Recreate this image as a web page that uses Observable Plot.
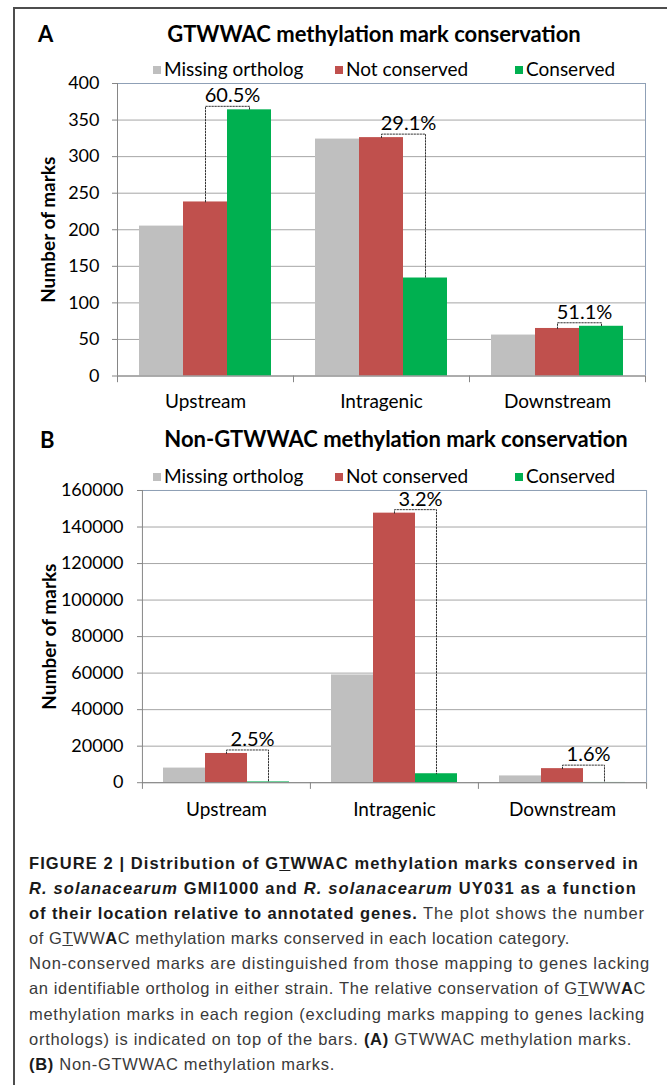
<!DOCTYPE html>
<html><head><meta charset="utf-8">
<script src="https://cdn.jsdelivr.net/npm/d3@7"></script>
<script src="https://cdn.jsdelivr.net/npm/@observablehq/plot@0.6"></script>
<style>
html,body{margin:0;padding:0;background:#fff;}
body{width:667px;height:1085px;overflow:hidden;position:relative;font-family:Lato,sans-serif;}
#frame{position:absolute;left:13px;top:7px;width:720px;height:1120px;border-left:2px solid #4d4d4d;border-top:2px solid #4d4d4d;}
.abs{position:absolute;white-space:nowrap;line-height:1.2;}
.panel{position:absolute;left:0;}
.sw{position:absolute;width:8px;height:8px;}
#caption{position:absolute;left:29px;top:851px;width:800px;font-family:"Liberation Sans",Arial,sans-serif;font-size:16.5px;color:#3a3a3a;}
#caption div{height:25.1px;line-height:25.1px;white-space:nowrap;}
#caption span.ln{display:inline-block;white-space:nowrap;}
#caption b{color:#1a1a1a;}
</style></head>
<body>
<div id="frame"></div>
<div id="root"></div>
<div id="caption">
<div><span class="ln"><b>FIGURE 2 | Distribution of G<u>T</u>WWAC methylation marks conserved in</b></span></div>
<div><span class="ln"><b><i>R. solanacearum</i> GMI1000 and <i>R. solanacearum</i> UY031 as a function</b></span></div>
<div><span class="ln"><b>of their location relative to annotated genes.</b> The plot shows the number</span></div>
<div><span class="ln">of G<u>T</u>WW<b>A</b>C methylation marks conserved in each location category.</span></div>
<div><span class="ln">Non-conserved marks are distinguished from those mapping to genes lacking</span></div>
<div><span class="ln">an identifiable ortholog in either strain. The relative conservation of G<u>T</u>WW<b>A</b>C</span></div>
<div><span class="ln">methylation marks in each region (excluding marks mapping to genes lacking</span></div>
<div><span class="ln">orthologs) is indicated on top of the bars. <b>(A)</b> GTWWAC methylation marks.</span></div>
<div><span class="ln"><b>(B)</b> Non-GTWWAC methylation marks.</span></div>
</div>
<script>
// ---- data ----
const categories = ["Upstream", "Intragenic", "Downstream"];
const seriesNames = ["Missing ortholog", "Not conserved", "Conserved"];
const seriesColors = ["#BFBFBF", "#C0504D", "#00B050"];

const aMissing = [205, 324, 56];
const aNotConserved = [238, 326, 65];
const aConserved = [364, 134, 68];
const aPercent = ["60.5%", "29.1%", "51.1%"];
const aTicks = [0, 50, 100, 150, 200, 250, 300, 350, 400];
const aTitle = "GTWWAC methylation mark conservation";

const bMissing = [8000, 59000, 3700];
const bNotConserved = [16000, 147600, 7700];
const bConserved = [410, 4900, 125];
const bPercent = ["2.5%", "3.2%", "1.6%"];
const bTicks = [0, 20000, 40000, 60000, 80000, 100000, 120000, 140000, 160000];
const bTitle = "Non-GTWWAC methylation mark conservation";

const yLabel = "Number of marks";

const root = document.getElementById("root");

function addText(html, x, baseline, size, weight, anchor) {
  const d = document.createElement("div");
  d.className = "abs";
  d.innerHTML = html;
  d.style.fontSize = size + "px";
  d.style.fontWeight = weight;
  d.style.top = (baseline - 0.987 * size) + "px";
  d.style.left = x + "px";
  if (anchor === "middle") d.style.transform = "translateX(-50%)";
  root.appendChild(d);
}

function addLegend(centerY) {
  const swX = [153, 335, 515];
  const txX = [164, 346, 526];
  seriesNames.forEach((s, i) => {
    const sw = document.createElement("div");
    sw.className = "sw";
    sw.style.left = swX[i] + "px";
    sw.style.top = (centerY - 4) + "px";
    sw.style.background = seriesColors[i];
    root.appendChild(sw);
    addText(s, txX[i], centerY + 6.5, 19, 400, "start");
  });
}

function drawPanel(cfg) {
  const {values, percents, ticks, mL, mR, plotTop, plotBottom, tickPadding, labelPad} = cfg;
  const W = 667, mT = 10, mB = 45;
  const yMax = ticks[ticks.length - 1];
  const plotH = plotBottom - plotTop;
  const H = mT + plotH + mB;
  const padOuter = 0.5;
  const step = (W - mL - mR) / categories.length / (seriesNames.length + 2 * padOuter);
  const perPx = yMax / plotH;
  const rows = categories.flatMap((c, i) => seriesNames.map((s, j) => ({category: c, series: s, value: values[j][i]})));
  const brackets = categories.flatMap((c, i) => {
    const r = values[1][i], g = values[2][i], top = Math.max(r, g) + 3.5 * perPx;
    return [
      {category: c, series: seriesNames[1], value: r},
      {category: c, series: seriesNames[1], value: top},
      {category: c, series: seriesNames[2], value: top},
      {category: c, series: seriesNames[2], value: g}
    ];
  });
  const labels = categories.map((c, i) => ({
    category: c, series: seriesNames[1],
    value: Math.max(values[1][i], values[2][i]) + 3.5 * perPx,
    text: percents[i]
  }));
  const tickLen = 6.7 * perPx;
  const first = categories[0], last = categories[categories.length - 1];
  const frameColor = "#8fa0b6", axisColor = "#868686";
  const svg = Plot.plot({
    width: W, height: H,
    marginTop: mT, marginBottom: mB, marginLeft: mL, marginRight: mR,
    style: {fontFamily: "Lato", fontSize: "18px", color: "#000", background: "transparent", overflow: "visible"},
    fx: {domain: categories, padding: 0, label: null},
    x: {domain: seriesNames, paddingInner: 0, paddingOuter: padOuter, axis: null},
    y: {domain: [0, yMax], label: null},
    color: {domain: seriesNames, range: seriesColors},
    marks: [
      Plot.gridY(ticks, {stroke: "#a6a6a6", strokeOpacity: 1}),
      Plot.ruleY([yMax], {stroke: frameColor}),
      Plot.barY(rows, {fx: "category", x: "series", y: "value", fill: "series"}),
      Plot.ruleY([0], {stroke: axisColor}),
      Plot.ruleX(categories, {fx: d => d, x: () => seriesNames[0], y1: -tickLen, y2: 0, dx: -step, stroke: axisColor}),
      Plot.ruleX([first], {fx: d => d, x: () => seriesNames[0], y1: 0, y2: yMax, dx: -step, stroke: axisColor}),
      Plot.ruleX([last], {fx: d => d, x: () => seriesNames[seriesNames.length - 1], y1: 0, y2: yMax, dx: step, stroke: frameColor}),
      Plot.ruleX([last], {fx: d => d, x: () => seriesNames[seriesNames.length - 1], y1: -tickLen, y2: 0, dx: step, stroke: axisColor}),
      Plot.line(brackets, {fx: "category", x: "series", y: "value", z: "category", stroke: "#333", strokeWidth: 1, strokeDasharray: "1.5 1.5"}),
      Plot.text(labels, {fx: "category", x: "series", y: "value", text: "text", dx: step / 2 + 5, dy: -4, lineAnchor: "bottom", fontSize: 20, fill: "#000"}),
      Plot.axisY(ticks, {tickSize: 5, tickPadding, tickFormat: d => String(d), stroke: axisColor, fill: "#000", fontSize: 18, label: null}),
      Plot.axisFx({anchor: "bottom", tickSize: 0, tickPadding: labelPad, label: null, fontSize: 19, fill: "#000"}),
      Plot.text([yLabel], {fx: () => first, frameAnchor: "left", textAnchor: "middle", rotate: -90, dx: 48 - mL, fontWeight: "bold", fontSize: 19, fill: "#000"})
    ]
  });
  const wrap = document.createElement("div");
  wrap.className = "panel";
  wrap.style.top = (plotTop - mT) + "px";
  wrap.appendChild(svg);
  root.appendChild(wrap);
}

drawPanel({values: [aMissing, aNotConserved, aConserved], percents: aPercent, ticks: aTicks,
  mL: 117, mR: 22, plotTop: 82.5, plotBottom: 375, tickPadding: 13, labelPad: 18});
drawPanel({values: [bMissing, bNotConserved, bConserved], percents: bPercent, ticks: bTicks,
  mL: 141, mR: 21, plotTop: 489.5, plotBottom: 781.7, tickPadding: 14, labelPad: 20});

addText("A", 38, 43, 22, 700, "start");
addText(aTitle, 374, 43, 22, 700, "middle");
addLegend(70);
addText("B", 40, 449, 22, 700, "start");
addText(bTitle, 396, 448, 22, 700, "middle");
addLegend(477);

// fit caption lines to the reference's ragged right edges (text layout only)
const captionLineEnds = [639, 637, 645, 570, 650, 646, 645, 632, 335];
document.querySelectorAll("#caption span.ln").forEach((d, i) => {
  const w = d.getBoundingClientRect().width;
  const n = d.textContent.length;
  const target = captionLineEnds[i] - 29;
  d.style.letterSpacing = ((target - w) / n) + "px";
});
</script>
</body></html>
